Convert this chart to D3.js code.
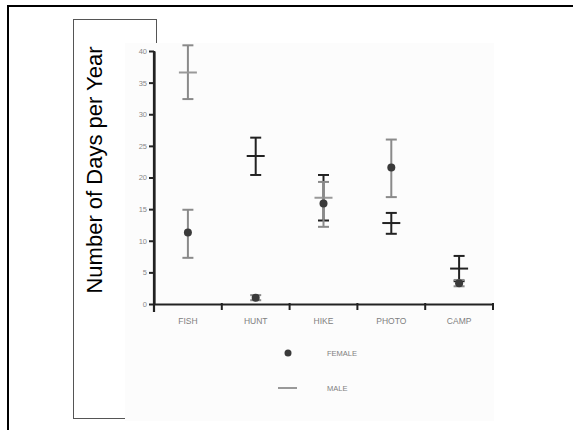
<!DOCTYPE html>
<html><head><meta charset="utf-8">
<script src="https://cdn.jsdelivr.net/npm/d3@7"></script>
<style>html,body{margin:0;padding:0;background:#fff;}svg{display:block;}</style>
</head><body>
<script>
const categories = ["FISH", "HUNT", "HIKE", "PHOTO", "CAMP"];
const femaleMean = [11.3, 1.0, 15.9, 21.6, 3.3];
const femaleLow  = [7.3, 0.6, 12.2, 16.9, 2.8];
const femaleHigh = [14.9, 1.4, 19.3, 26.0, 3.8];
const maleMean = [36.6, 23.4, 16.8, 12.8, 5.6];
const maleLow  = [32.4, 20.4, 13.2, 11.1, 3.6];
const maleHigh = [40.9, 26.3, 20.4, 14.4, 7.6];
const yTicks = [0, 5, 10, 15, 20, 25, 30, 35, 40];
const legendLabels = ["FEMALE", "MALE"];
const yTitle = "Number of Days per Year";

const W = 573, H = 430;
const svg = d3.select("body").append("svg").attr("width", W).attr("height", H);

// outer frame (top and left visible)
svg.append("line").attr("x1", 7).attr("x2", W).attr("y1", 6).attr("y2", 6).attr("stroke", "#000").attr("stroke-width", 2);
svg.append("line").attr("x1", 8).attr("x2", 8).attr("y1", 6).attr("y2", H).attr("stroke", "#000").attr("stroke-width", 2);

// text box frame behind the chart image
svg.append("rect").attr("x", 73.5).attr("y", 19.5).attr("width", 83).attr("height", 399)
  .attr("fill", "none").attr("stroke", "#555").attr("stroke-width", 1);

// chart image background
svg.append("rect").attr("x", 125).attr("y", 43).attr("width", 369).attr("height", 378).attr("fill", "#fcfcfc");

// y title
svg.append("text").attr("transform", "translate(102,170) rotate(-90)")
  .attr("text-anchor", "middle").attr("font-family", "Liberation Sans, Arial, sans-serif")
  .attr("font-size", 22).attr("fill", "#000").text(yTitle);

const x = d3.scaleBand().domain(categories).range([154, 493]);
const y = d3.scaleLinear().domain([0, 40]).range([304, 51]);

const dark = "#222", gray = "#8a8a8a", labelGray = "#808080";

// y axis
const yAxis = svg.append("g").attr("transform", "translate(154,0)")
  .call(d3.axisLeft(y).tickValues(yTicks).tickSize(5).tickPadding(2).tickSizeOuter(0));
yAxis.select(".domain").attr("stroke", dark).attr("stroke-width", 2.2);
yAxis.selectAll(".tick line").attr("stroke", dark).attr("stroke-width", 2);
yAxis.selectAll(".tick text").attr("fill", "#888").attr("font-size", 7.5)
  .attr("font-family", "Liberation Sans Narrow, Liberation Sans, Arial, sans-serif");
svg.append("line").attr("x1", 154).attr("x2", 154).attr("y1", 51).attr("y2", 312)
  .attr("stroke", dark).attr("stroke-width", 2.2);

// x axis
const xAxis = svg.append("g").attr("transform", "translate(0,304)")
  .call(d3.axisBottom(x).tickSize(0).tickPadding(14));
xAxis.select(".domain").attr("stroke", dark).attr("stroke-width", 2.2);
xAxis.selectAll(".tick text").attr("fill", labelGray).attr("font-size", 8.5)
  .attr("font-family", "Liberation Sans Narrow, Liberation Sans, Arial, sans-serif");
svg.append("g").selectAll("line").data(categories)
  .join("line")
  .attr("x1", c => x(c) + x.bandwidth())
  .attr("x2", c => x(c) + x.bandwidth())
  .attr("y1", 303).attr("y2", 310).attr("stroke", dark).attr("stroke-width", 2);

const cx = c => x(c) + x.bandwidth() / 2;
const capW = 11;

function errorBars(g, mean, low, high, colorFn) {
  categories.forEach((c, i) => {
    const col = colorFn(c);
    const xc = cx(c);
    g.append("line").attr("x1", xc).attr("x2", xc).attr("y1", y(low[i])).attr("y2", y(high[i]))
      .attr("stroke", col).attr("stroke-width", 2);
    [low[i], high[i]].forEach(v => {
      g.append("line").attr("x1", xc - capW / 2).attr("x2", xc + capW / 2)
        .attr("y1", y(v)).attr("y2", y(v)).attr("stroke", col).attr("stroke-width", 2);
    });
  });
}

const gF = svg.append("g");
const gM = svg.append("g");
errorBars(gF, femaleMean, femaleLow, femaleHigh, () => gray);
errorBars(gM, maleMean, maleLow, maleHigh, c => c === "FISH" ? gray : dark);

// male dash markers
categories.forEach((c, i) => {
  const col = (c === "FISH" || c === "HIKE") ? "#999" : dark;
  gM.append("line").attr("x1", cx(c) - 9).attr("x2", cx(c) + 9)
    .attr("y1", y(maleMean[i])).attr("y2", y(maleMean[i])).attr("stroke", col).attr("stroke-width", 2);
});
// female dots
gF.raise();
gF.selectAll("circle").data(categories).join("circle")
  .attr("cx", c => cx(c)).attr("cy", (c, i) => y(femaleMean[i])).attr("r", 4).attr("fill", "#3a3a3a");

// legend
const lg = svg.append("g");
lg.append("circle").attr("cx", 288).attr("cy", 353).attr("r", 3.5).attr("fill", "#3a3a3a");
lg.append("line").attr("x1", 278).attr("x2", 297).attr("y1", 388).attr("y2", 388).attr("stroke", "#999").attr("stroke-width", 2);
lg.selectAll("text").data(legendLabels).join("text")
  .attr("x", 327).attr("y", (d, i) => 356 + i * 35).attr("fill", labelGray).attr("font-size", 7.5)
  .attr("font-family", "Liberation Sans Narrow, Liberation Sans, Arial, sans-serif").text(d => d);
</script>
</body></html>
